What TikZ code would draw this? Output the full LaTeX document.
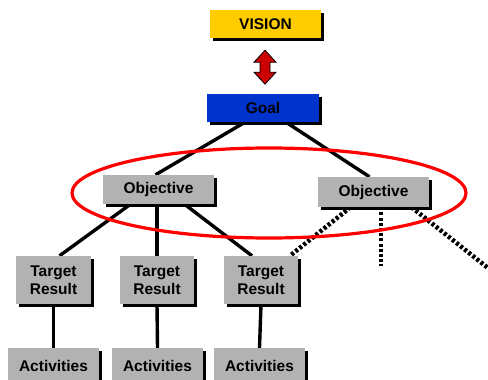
\documentclass[tikz,border=0pt]{standalone}
\usepackage{fontspec}
\setmainfont{Liberation Sans}
\usetikzlibrary{shadows,calc}
\definecolor{visyellow}{RGB}{255,204,0}
\definecolor{goalblue}{RGB}{0,51,204}
\definecolor{boxgray}{RGB}{178,178,178}
\definecolor{arrred}{RGB}{204,0,0}
\pgfdeclarelayer{bg}
\pgfsetlayers{bg,main}
\begin{document}
\begin{tikzpicture}[x=1pt,y=-1pt,
  box/.style={rectangle,inner sep=0pt,draw=none,
    drop shadow={shadow xshift=2.5pt,shadow yshift=-2.5pt,fill=black,opacity=1},
    font=\fontsize{15.5}{17.5}\selectfont\bfseries,align=center},
  conn/.style={line width=3.4pt,black},
  dots/.style={line width=4.5pt,black,dash pattern=on 3pt off 2.2pt}
]
\useasboundingbox (0,0) rectangle (488,380);
\node[box,fill=visyellow,minimum width=111pt,minimum height=28pt] (vision) at (265.5,24) {VISION};
\node[box,fill=goalblue,minimum width=112pt,minimum height=28pt] (goal) at (263,108) {Goal};
\node[box,fill=boxgray,minimum width=111pt,minimum height=29pt] (objL) at (158.5,189.5) {Objective};
\node[box,fill=boxgray,minimum width=111pt,minimum height=30pt] (objR) at (373.5,192) {Objective};
\node[box,fill=boxgray,minimum width=75pt,minimum height=48pt] (tr1) at (53.5,280) {Target\\Result};
\node[box,fill=boxgray,minimum width=74pt,minimum height=48pt] (tr2) at (157,280) {Target\\Result};
\node[box,fill=boxgray,minimum width=74pt,minimum height=48pt] (tr3) at (261,280) {Target\\Result};
\node[box,fill=boxgray,minimum width=91pt,minimum height=35pt] (act1) at (53.5,365.5) {Activities};
\node[box,fill=boxgray,minimum width=91pt,minimum height=35pt] (act2) at (157.5,365.5) {Activities};
\node[box,fill=boxgray,minimum width=91pt,minimum height=35pt] (act3) at (259.5,365.5) {Activities};
\coordinate (vend) at (381,266);
\coordinate (rend) at (488,268);
\begin{pgfonlayer}{bg}
\draw[conn] ($(goal.south)+(-18,0)$) -- ($(objL.north)+(-3,0)$);
\draw[conn] ($(goal.south)+(23,0)$) -- ($(objR.north)+(-4,0)$);
\draw[conn] ($(objL.south)+(-28,0)$) -- ($(tr1.north)+(6,0)$);
\draw[conn] (objL.south -| tr2.north) -- (tr2.north);
\draw[conn] ($(objL.south)+(26,0)$) -- ($(tr3.north)+(-9,0)$);
\draw[conn] (tr1.south) -- (act1.north);
\draw[conn] (tr2.south) -- (act2.north);
\draw[conn] (tr3.south) -- (act3.north);
\draw[dots] ($(objR.south)+(-23,0)$) -- ($(tr3.north)+(29,0)$);
\draw[dots] (objR.south -| vend) -- (vend);
\draw[dots] ($(objR.south)+(38,0)$) -- (rend);
\draw[red,line width=3.2pt] (269,193) ellipse [x radius=197, y radius=45];
\end{pgfonlayer}
% double arrow between VISION and Goal
\draw[fill=arrred,draw=black,line width=0.8pt]
  ($(vision.south)+(-0.5,12)$)
  -- ++(11,12) -- ++(-6,0) -- ++(0,10) -- ++(6,0) -- ++(-11,12) -- ++(-11,-12)
  -- ++(6,0) -- ++(0,-10) -- ++(-6,0) -- cycle;
\end{tikzpicture}
\end{document}
